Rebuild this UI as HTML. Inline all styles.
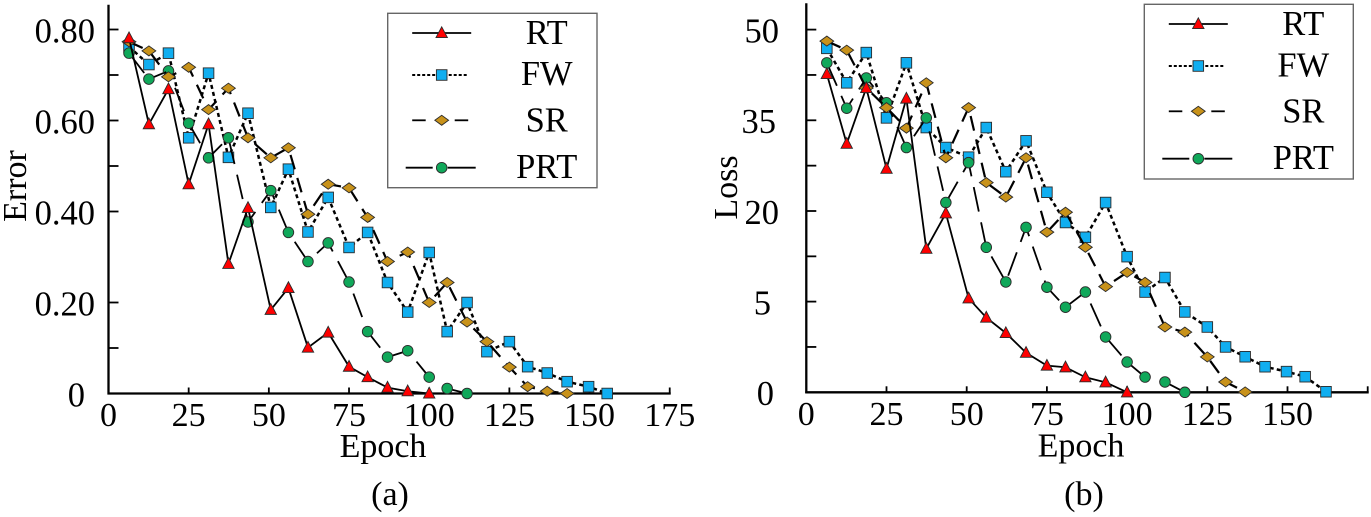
<!DOCTYPE html>
<html lang="en">
<head>
<meta charset="utf-8">
<title>Error and Loss versus Epoch</title>
<style>
html,body{margin:0;padding:0;background:#fff;}
svg{display:block;}
text{font-family:"Liberation Serif",serif;fill:#000;}
</style>
</head>
<body>
<svg id="figure" xmlns="http://www.w3.org/2000/svg" width="1371" height="517" viewBox="0 0 1371 517">
  <g id="panel-a"></g>
  <g id="panel-b"></g>

  <text transform="translate(26,186) rotate(-90)" font-size="34" text-anchor="middle">Error</text>
  <text x="383" y="457" font-size="34" text-anchor="middle">Epoch</text>
  <text x="390" y="505" font-size="34" text-anchor="middle">(a)</text>

  <text transform="translate(737,187.5) rotate(-90)" font-size="34" text-anchor="middle">Loss</text>
  <text x="1081" y="456.5" font-size="34" text-anchor="middle">Epoch</text>
  <text x="1084" y="505" font-size="34" text-anchor="middle">(b)</text>

  <g id="legend-a">
    <rect x="387.7" y="13.3" width="209.3" height="174.4" fill="#fff" stroke="#666" stroke-width="1.4"/>
    <text x="546.7" y="44" font-size="34.5" text-anchor="middle">RT</text>
    <text x="546.7" y="85" font-size="34.5" text-anchor="middle">FW</text>
    <text x="546.7" y="131.5" font-size="34.5" text-anchor="middle">SR</text>
    <text x="546.7" y="178" font-size="34.5" text-anchor="middle">PRT</text>
  </g>
  <g id="legend-b">
    <rect x="1144.3" y="4.3" width="209" height="174.7" fill="#fff" stroke="#666" stroke-width="1.4"/>
    <text x="1303.3" y="35" font-size="34.5" text-anchor="middle">RT</text>
    <text x="1303.3" y="76.5" font-size="34.5" text-anchor="middle">FW</text>
    <text x="1303.3" y="122.5" font-size="34.5" text-anchor="middle">SR</text>
    <text x="1303.3" y="169" font-size="34.5" text-anchor="middle">PRT</text>
  </g>
</svg>
<script>
// Shared epoch positions
const epochs = [6.4,12.6,18.7,25,31.2,37.4,43.5,50.6,56.1,62.2,68.5,75,80.8,87,93.3,100,105.6,111.8,118,125,130.7,136.8,143,149.7,155.5,162];

// Panel (a): Error
const errorRT  = [0.781,0.592,0.669,0.46,0.592,0.285,0.408,0.184,0.232,0.101,0.134,0.059,0.036,0.013,0.005,0];
const errorFW  = [0.762,0.723,0.748,0.562,0.704,0.519,0.616,0.409,0.493,0.355,0.431,0.321,0.354,0.244,0.179,0.31,0.136,0.2,0.092,0.114,0.059,0.045,0.026,0.015,0];
const errorSR  = [0.773,0.753,0.696,0.717,0.624,0.671,0.562,0.518,0.54,0.394,0.46,0.452,0.387,0.29,0.311,0.2,0.244,0.157,0.114,0.058,0.015,0.005,0];
const errorPRT = [0.748,0.691,0.709,0.594,0.518,0.562,0.377,0.446,0.354,0.29,0.331,0.245,0.136,0.08,0.094,0.036,0.011,0];
const errorXTicks = [0,25,50,75,100,125,150,175];
const errorXLabels = ['0','25','50','75','100','125','150','175'];
const errorYTicks = [0,0.2,0.4,0.6,0.8];
const errorYLabels = ['0','0.20','0.40','0.60','0.80'];
const errorYMinor = [0.1,0.5,0.7];

// Panel (b): Loss (the printed axis is 0, 5, 20, 35, 50 at equal spacing)
const lossRT  = [42.66,31.13,40.35,27,38.6,13.77,19.62,5.56,4.12,3.27,2.18,1.47,1.38,0.83,0.55,0];
const lossFW  = [46.9,41.2,46.2,35.4,44.5,33.8,30.5,28.9,33.8,26.5,31.6,23.1,18.1,15.65,21.4,12.45,6.6,9,4.43,3.6,2.5,1.96,1.41,1.14,0.86,0.03];
const lossSR  = [48.1,46.6,40.35,37.1,33.7,41.2,28.8,37.1,24.7,22.3,28.8,16.5,19.8,14,7.5,9.85,8.2,3.6,3.32,1.95,0.57,0.02];
const lossPRT = [44.5,37,42,37.9,30.5,35.4,21.4,28,14,8.26,17.3,7.4,4.69,6.6,3.05,1.67,0.84,0.57,0];
const lossXTicks = [0,25,50,75,100,125,150,175];
const lossXLabels = ['0','25','50','75','100','125','150',''];
const lossYTicks = [0,5,20,35,50];
const lossYLabels = ['0','5','20','35','50'];
const lossYMinor = [2.5,12.5,27.5,42.5];

const legendNames = ['RT','FW','SR','PRT'];
const NS = 'http://www.w3.org/2000/svg';

function make(parent, tag, props) {
  const el = document.createElementNS(NS, tag);
  for (const k in props) el.setAttribute(k, props[k]);
  parent.appendChild(el);
  return el;
}

const styles = {
  RT:  {lineW:1.8, dash:'',      fill:'#ff0000'},
  FW:  {lineW:2.5, dash:'4 3.2', fill:'#10aef0'},
  SR:  {lineW:2.2, dash:'15 9',  fill:'#c8921a'},
  PRT: {lineW:1.8, dash:'25 11', fill:'#10a85a'}
};

function drawMarker(g, kind, x, y) {
  const common = {fill: styles[kind].fill, stroke:'#2b2b2b', 'stroke-width':0.9};
  let m;
  if (kind === 'RT') {
    m = make(g, 'polygon', Object.assign({points:[x,y-6.2,x+5.7,y+4.6,x-5.7,y+4.6].join(' ')}, common));
  } else if (kind === 'FW') {
    m = make(g, 'rect', Object.assign({x:x-5.3, y:y-5.3, width:10.6, height:10.6}, common));
  } else if (kind === 'SR') {
    m = make(g, 'polygon', Object.assign({points:[x-6.9,y,x,y-5,x+6.9,y,x,y+5].join(' ')}, common));
  } else {
    m = make(g, 'circle', Object.assign({cx:x, cy:y, r:5.3}, common));
  }
  
  
}

function drawPanel(root, cfg) {
  const ax = make(root, 'g', {});
  
  

  const yAxis = make(ax, 'line', {x1:cfg.x(0), x2:cfg.x(0), y1:cfg.top, y2:cfg.y(0)+1, stroke:'#000', 'stroke-width':2.3});
  
  
  const xAxis = make(ax, 'line', {x1:cfg.x(0)-1, x2:cfg.x(175)+1, y1:cfg.y(0), y2:cfg.y(0), stroke:'#000', 'stroke-width':2.3});
  
  

  cfg.xTicks.forEach(function (t, i) {
    const px = cfg.x(t);
    if (t > 0) {
      const tick = make(ax, 'line', {x1:px, x2:px, y1:cfg.y(0), y2:cfg.y(0)-6, stroke:'#000', 'stroke-width':1.8});
      
      
    }
    if (cfg.xLabels[i]) {
      const lab = make(ax, 'text', {x:px, y:cfg.xLabelY, 'font-size':34, 'text-anchor':'middle'});
      lab.textContent = cfg.xLabels[i];
      
      
    }
  });

  cfg.yTicks.concat(cfg.yMinor).forEach(function (t) {
    if (t === 0) return;
    const py = cfg.y(t);
    const tick = make(ax, 'line', {x1:cfg.x(0), x2:cfg.x(0)+10, y1:py, y2:py, stroke:'#000', 'stroke-width':1.8});
    
    
  });

  cfg.yTicks.forEach(function (t, i) {
    const label = cfg.yLabels[i];
    const lab = make(ax, 'text', {x:cfg.labelRight(label), y:cfg.y(t)+12.8, 'font-size':34.5, 'text-anchor':'end'});
    lab.textContent = label;
    
    
  });

  // Draw order as seen in the picture: FW, PRT, SR, RT
  ['FW','PRT','SR','RT'].forEach(function (kind) {
    const vals = cfg.series[kind];
    const g = make(root, 'g', {});
    
    
    const pts = vals.map(function (v, i) { return cfg.x(epochs[i]) + ',' + cfg.y(v); }).join(' ');
    const line = make(g, 'polyline', {points:pts, fill:'none', stroke:'#000', 'stroke-width':styles[kind].lineW, 'stroke-linejoin':'round'});
    if (styles[kind].dash) line.setAttribute('stroke-dasharray', styles[kind].dash);
    
    
    vals.forEach(function (v, i) { drawMarker(g, kind, cfg.x(epochs[i]), cfg.y(v)); });
  });
}

function drawLegend(root, mx, ys) {
  legendNames.forEach(function (kind, i) {
    const y = ys[i];
    const g = make(root, 'g', {});
    
    
    let segs;
    if (kind === 'RT') segs = [[-29.5,29.5]];
    else if (kind === 'FW') segs = [[-29.5,-5],[7,26.5]];
    else if (kind === 'SR') segs = [[-29.5,-16],[13,26.5]];
    else segs = [[-36,-9],[6,34]];
    segs.forEach(function (s) {
      const l = make(g, 'line', {x1:mx+s[0], x2:mx+s[1], y1:y, y2:y, stroke:'#000', 'stroke-width': kind === 'FW' ? 2 : 1.8});
      if (kind === 'FW') l.setAttribute('stroke-dasharray', '3 2');
      
      
    });
    drawMarker(g, kind, mx, y);
  });
}

// Axis functions
function xA(v) { return 108.5 + 3.207 * v; }
function yA(v) { return 393.5 - 455 * v; }
function xB(v) { return 806.3 + 3.208 * v; }
function yB(v) {
  // piecewise axis: 0-5 takes the first interval, 5-50 the other three
  if (v <= 5) return 392.3 - (v / 5) * 90.7;
  return 301.7 - ((v - 5) / 15) * 90.7;
}

drawPanel(document.getElementById('panel-a'), {
  x:xA, y:yA, top:4.7, xLabelY:426,
  xTicks:errorXTicks, xLabels:errorXLabels,
  yTicks:errorYTicks, yLabels:errorYLabels, yMinor:errorYMinor,
  labelRight:function (s) { return s === '0' ? 85 : 95; },
  series:{RT:errorRT, FW:errorFW, SR:errorSR, PRT:errorPRT}
});

drawPanel(document.getElementById('panel-b'), {
  x:xB, y:yB, top:3.3, xLabelY:425,
  xTicks:lossXTicks, xLabels:lossXLabels,
  yTicks:lossYTicks, yLabels:lossYLabels, yMinor:lossYMinor,
  labelRight:function (s) { return s === '0' ? 774 : (s === '5' ? 771 : (s === '35' ? 776 : 779)); },
  series:{RT:lossRT, FW:lossFW, SR:lossSR, PRT:lossPRT}
});

drawLegend(document.getElementById('legend-a'), 441.7, [33, 75, 120.3, 167.7]);
drawLegend(document.getElementById('legend-b'), 1198.3, [24, 66, 111.3, 158.7]);
</script>
</body>
</html>
